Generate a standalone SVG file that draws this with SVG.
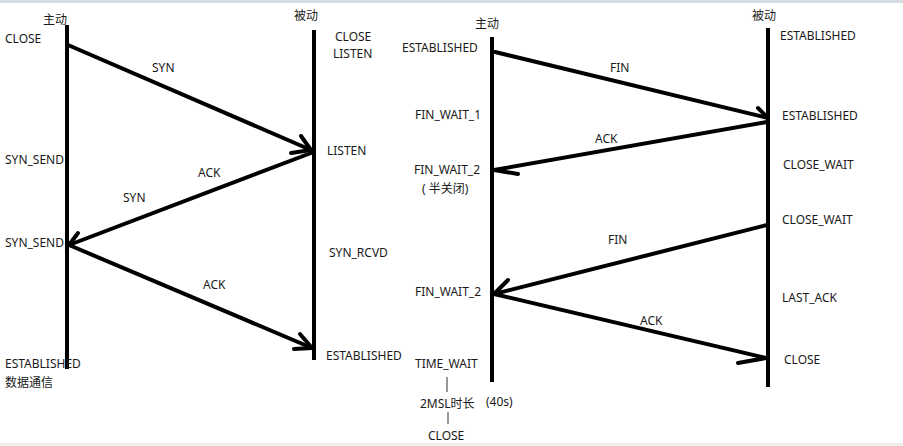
<svg xmlns="http://www.w3.org/2000/svg" width="903" height="446" viewBox="0 0 903 446">
<style>
text{font-family:"Noto Sans","Noto Sans CJK SC",sans-serif;font-size:12px;fill:#1a1a1a;dominant-baseline:central}
.life{stroke:#000;stroke-width:4;stroke-linecap:butt}
.msg{stroke:#000;stroke-width:4;fill:none;stroke-linecap:round;stroke-linejoin:round}
.thin{stroke:#333;stroke-width:1}
</style>
<rect x="0" y="0" width="903" height="446" fill="#fff"/>
<rect x="0" y="0" width="903" height="3" fill="#d5dae3"/>
<rect x="0" y="443" width="903" height="3" fill="#eeeeee"/>

<g id="lifelines">
<line id="l-active1" class="life" x1="67" y1="25" x2="67" y2="369"/>
<line id="l-passive1" class="life" x1="314" y1="30" x2="314" y2="360"/>
<line id="l-active2" class="life" x1="492" y1="37" x2="492" y2="382"/>
<line id="l-passive2" class="life" x1="768" y1="28" x2="768" y2="387"/>
</g>

<g id="connectors">
<path class="msg" d="M68 45 L311 150"/>
<path class="msg" d="M301 136 L311 150 L291 153"/>
<path class="msg" d="M311 153 L69 245"/>
<path class="msg" d="M78 233 L69 245"/>
<path class="msg" d="M69 245 L312 348"/>
<path class="msg" d="M300 334 L312 348 L294 349"/>
<path class="msg" d="M495 52 L768 118"/>
<path class="msg" d="M758 108 L768 118"/>
<path class="msg" d="M767 122 L494 170"/>
<path class="msg" d="M494 170 L518 174"/>
<path class="msg" d="M767 225 L494 294"/>
<path class="msg" d="M508 280 L494 294"/>
<path class="msg" d="M494 294 L766 358"/>
<path class="msg" d="M738 363 L766 358"/>
</g>

<g id="labels-left">
<text x="43" y="19">主动</text>
<text x="294" y="15">被动</text>
<text x="5" y="38">CLOSE</text>
<text x="335" y="36">CLOSE</text>
<text x="333" y="53">LISTEN</text>
<text x="152" y="67">SYN</text>
<text x="327" y="150">LISTEN</text>
<text x="5" y="159">SYN_SEND</text>
<text x="198" y="172">ACK</text>
<text x="123" y="197">SYN</text>
<text x="5" y="242">SYN_SEND</text>
<text x="329" y="252">SYN_RCVD</text>
<text x="203" y="284">ACK</text>
<text x="326" y="355">ESTABLISHED</text>
<text x="5" y="363">ESTABLISHED</text>
<text x="5" y="382">数据通信</text>
</g>

<g id="labels-right">
<text x="475" y="23">主动</text>
<text x="752" y="15">被动</text>
<text x="402" y="47">ESTABLISHED</text>
<text x="780" y="35">ESTABLISHED</text>
<text x="610" y="67">FIN</text>
<text x="415" y="114">FIN_WAIT_1</text>
<text x="782" y="115">ESTABLISHED</text>
<text x="595" y="138">ACK</text>
<text x="414" y="169">FIN_WAIT_2</text>
<text x="422" y="188">( 半关闭)</text>
<text x="783" y="164">CLOSE_WAIT</text>
<text x="782" y="219">CLOSE_WAIT</text>
<text x="608" y="239">FIN</text>
<text x="415" y="291">FIN_WAIT_2</text>
<text x="782" y="297">LAST_ACK</text>
<text x="640" y="320">ACK</text>
<text x="784" y="359">CLOSE</text>
<text x="415" y="363">TIME_WAIT</text>
<line class="thin" x1="447" y1="377" x2="447" y2="392"/>
<text x="420" y="403">2MSL时长</text>
<text x="486" y="401">(40s)</text>
<line class="thin" x1="448" y1="412" x2="448" y2="424"/>
<text x="428" y="435">CLOSE</text>
</g>
</svg>
